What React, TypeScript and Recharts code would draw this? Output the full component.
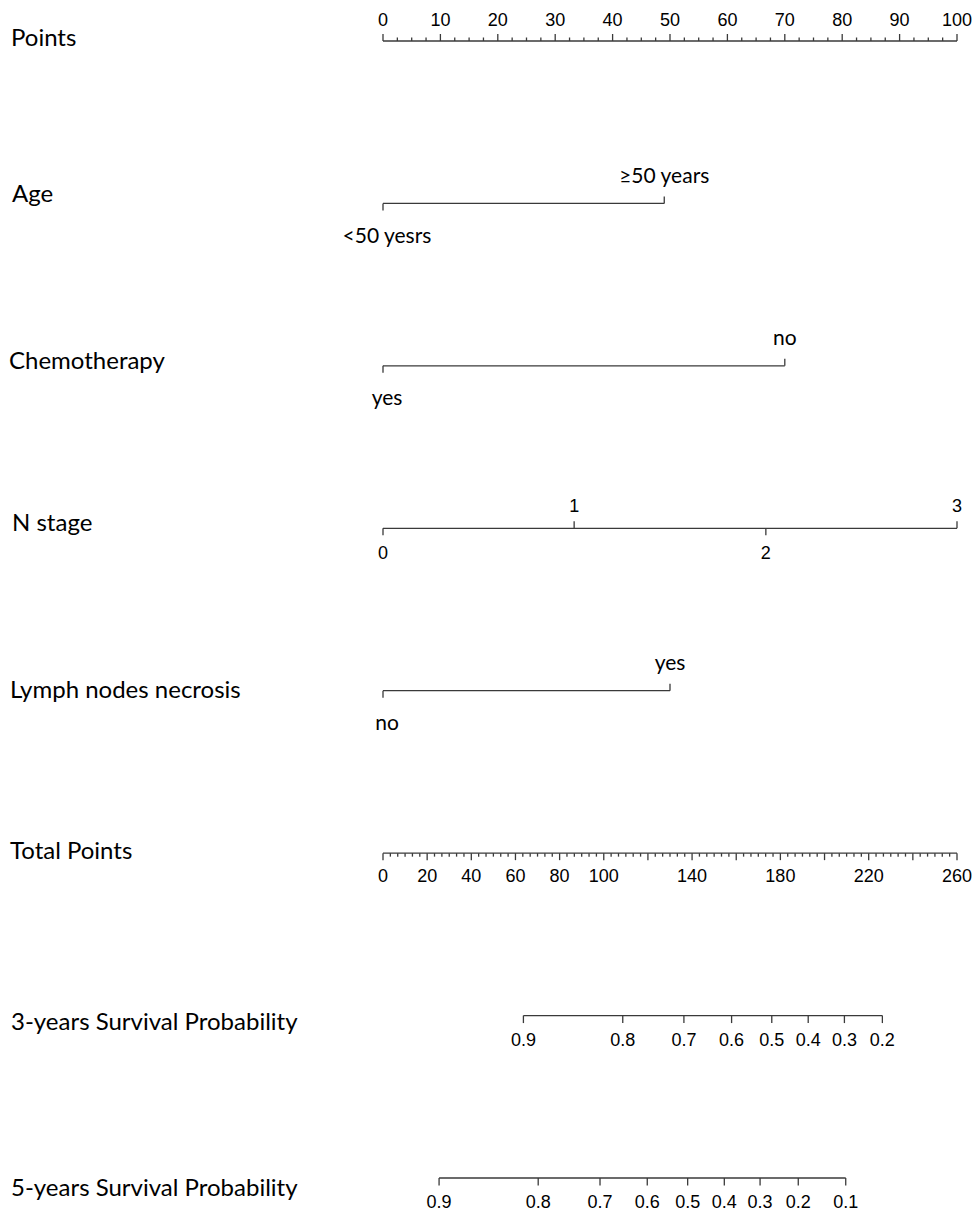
import React from "react";
import { ScatterChart, Scatter, XAxis, YAxis } from "recharts";

// nomogram rows, top to bottom
const rowNames = [
  "Points",
  "Age",
  "Chemotherapy",
  "N stage",
  "Lymph nodes necrosis",
  "Total Points",
  "3-years Survival Probability",
  "5-years Survival Probability",
];

const pointLabels = [0, 10, 20, 30, 40, 50, 60, 70, 80, 90, 100];

const ageLevels = ["<50 yesrs", "≥50 years"];
const agePoints = [0, 49];

const chemoLevels = ["yes", "no"];
const chemoPoints = [0, 70];

const nStageLevels = ["0", "1", "2", "3"];
const nStagePoints = [0, 33.3, 66.7, 100];

const necrosisLevels = ["no", "yes"];
const necrosisPoints = [0, 50];

const totalMax = 260;
const totalLabels = [0, 20, 40, 60, 80, 100, 140, 180, 220, 260];

const surv3Labels = ["0.9", "0.8", "0.7", "0.6", "0.5", "0.4", "0.3", "0.2"];
const surv3Total = [63.6, 108.6, 136.3, 157.9, 176.1, 192.6, 209.0, 226.2];

const surv5Labels = ["0.9", "0.8", "0.7", "0.6", "0.5", "0.4", "0.3", "0.2", "0.1"];
const surv5Total = [25.4, 70.3, 98.3, 119.7, 138.0, 154.6, 170.8, 188.1, 209.6];

type Tick = { x: number; row: number; label: string; major: boolean; up: boolean };

const LINE = "#3a3a3a";
const NUM_FONT = "'Liberation Sans', Arial, sans-serif";
const WORD_FONT = "Lato, 'Open Sans', sans-serif";

// left label placement (x, dy) per row
const rowLabelX = [11, 12, 9, 12, 10, 10, 11, 11];
const rowLabelDy = [-5, -11, -6, -7, -2, -4, 5, 8];

const toPts = (t: number) => (t * 100) / totalMax;

// points scale: minor ticks every 2.5
const pointsRow: Tick[] = [];
for (let i = 0; i <= 40; i++) {
  const v = i * 2.5;
  pointsRow.push({
    x: v,
    row: 0,
    major: i % 4 === 0,
    label: pointLabels.includes(v) ? String(v) : "",
    up: true,
  });
}

// total points scale: minor every 10/3, major every 20
const totalRow: Tick[] = [];
for (let i = 0; i <= 78; i++) {
  const t = Math.round((i * 10) / 3 * 100) / 100;
  const major = i % 6 === 0;
  const rt = Math.round(t);
  totalRow.push({
    x: toPts(t),
    row: 5,
    major,
    label: major && totalLabels.includes(rt) ? String(rt) : "",
    up: false,
  });
}

const categoryRow = (levels: string[], pts: number[], row: number): Tick[] =>
  levels.map((l, i) => ({ x: pts[i], row, label: l, major: true, up: i % 2 === 1 }));

const survRow = (labels: string[], totals: number[], row: number): Tick[] =>
  labels.map((l, i) => ({ x: toPts(totals[i]), row, label: l, major: true, up: false }));

const ageRow = categoryRow(ageLevels, agePoints, 1);
const chemoRow = categoryRow(chemoLevels, chemoPoints, 2);
const nStageRow = categoryRow(nStageLevels, nStagePoints, 3);
const necrosisRow = categoryRow(necrosisLevels, necrosisPoints, 4);
const surv3Row = survRow(surv3Labels, surv3Total, 6);
const surv5Row = survRow(surv5Labels, surv5Total, 7);

type RowStyle = {
  tickUp?: boolean; // fixed tick direction; undefined = toward label
  labelAbove?: boolean; // fixed label side; undefined = per tick
  font: string;
  size: number;
  above: number;
  below: number;
  belowDx: number;
  minor: number;
  majorLen: number;
};

const makeShape = (s: RowStyle) => (props: any) => {
  const { cx, cy, payload } = props;
  const p = payload as Tick;
  const up = s.tickUp !== undefined ? s.tickUp : p.up;
  const len = p.major ? s.majorLen : s.minor;
  const labelAbove = s.labelAbove !== undefined ? s.labelAbove : p.up;
  return (
    <g>
      <line x1={cx} x2={cx} y1={cy} y2={up ? cy - len : cy + len} stroke={LINE} strokeWidth={1.3} />
      {p.label && (
        <text
          x={labelAbove ? cx : cx + s.belowDx}
          y={labelAbove ? cy + s.above : cy + s.below}
          textAnchor="middle"
          dominantBaseline="central"
          fontFamily={s.font}
          fontSize={s.size}
          fill="#000"
        >
          {p.label}
        </text>
      )}
    </g>
  );
};

const pointsStyle: RowStyle = { tickUp: true, labelAbove: true, font: NUM_FONT, size: 18, above: -21, below: 0, belowDx: 0, minor: 3.5, majorLen: 7 };
const totalStyle: RowStyle = { tickUp: false, labelAbove: false, font: NUM_FONT, size: 18, above: 0, below: 23, belowDx: 0, minor: 3.5, majorLen: 7 };
const survStyle: RowStyle = { tickUp: false, labelAbove: false, font: NUM_FONT, size: 18, above: 0, below: 24, belowDx: 0, minor: 7.5, majorLen: 7.5 };
const wordStyle: RowStyle = { font: WORD_FONT, size: 21, above: -29, below: 31, belowDx: 4, minor: 7, majorLen: 7 };
const nStageStyle: RowStyle = { font: NUM_FONT, size: 18, above: -22, below: 25, belowDx: 0, minor: 7, majorLen: 7 };

const series: { data: Tick[]; style: RowStyle }[] = [
  { data: pointsRow, style: pointsStyle },
  { data: ageRow, style: wordStyle },
  { data: chemoRow, style: wordStyle },
  { data: nStageRow, style: nStageStyle },
  { data: necrosisRow, style: wordStyle },
  { data: totalRow, style: totalStyle },
  { data: surv3Row, style: survStyle },
  { data: surv5Row, style: survStyle },
];

const RowLabel = (props: any) => {
  const { y, payload } = props;
  const i = payload.value as number;
  return (
    <text
      x={rowLabelX[i]}
      y={y + rowLabelDy[i]}
      textAnchor="start"
      dominantBaseline="central"
      fontFamily={WORD_FONT}
      fontSize={24}
      fill="#000"
    >
      {rowNames[i]}
    </text>
  );
};

export default function App() {
  return (
    <div style={{ position: "absolute", left: 0, top: 0, background: "#fff" }}>
      <ScatterChart width={975} height={1211} margin={{ top: 41, right: 18, bottom: 33, left: 0 }}>
        <XAxis type="number" dataKey="x" domain={[0, 100]} hide />
        <YAxis
          type="number"
          dataKey="row"
          domain={[0, 7]}
          reversed
          width={383}
          ticks={[0, 1, 2, 3, 4, 5, 6, 7]}
          interval={0}
          axisLine={false}
          tickLine={false}
          tick={RowLabel}
        />
        {series.map((s, i) => (
          <Scatter
            key={i}
            data={s.data}
            line={{ stroke: LINE, strokeWidth: 1.3 }}
            shape={makeShape(s.style)}
            isAnimationActive={false}
            legendType="none"
          />
        ))}
      </ScatterChart>
    </div>
  );
}
